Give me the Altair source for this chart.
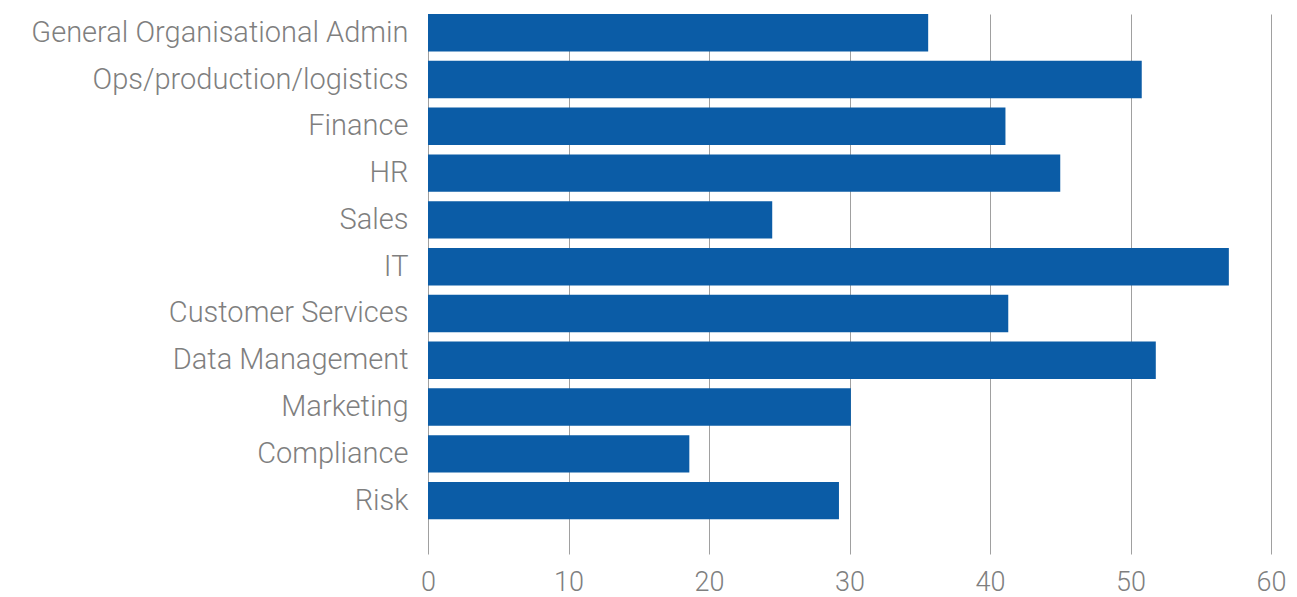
import altair as alt
import pandas as pd

categories = [
    "General Organisational Admin",
    "Ops/production/logistics",
    "Finance",
    "HR",
    "Sales",
    "IT",
    "Customer Services",
    "Data Management",
    "Marketing",
    "Compliance",
    "Risk",
]
values = [35.6, 50.8, 41.1, 45.0, 24.5, 57.0, 41.3, 51.8, 30.1, 18.6, 29.25]
x_ticks = [0, 10, 20, 30, 40, 50, 60]

df = pd.DataFrame({"category": categories, "value": values})

FONT = "Roboto"
LABEL_COLOR = "#7f7f7f"

chart = (
    alt.Chart(df)
    .mark_bar(color="#0B5CA6")
    .encode(
        x=alt.X(
            "value:Q",
            scale=alt.Scale(domain=[0, 60], nice=False, zero=True),
            axis=alt.Axis(
                values=x_ticks,
                title=None,
                grid=True,
                gridColor="#a0a0a0",
                gridWidth=1,
                domain=False,
                ticks=False,
                labelFont=FONT,
                labelFontWeight=300,
                labelFontSize=27,
                labelColor=LABEL_COLOR,
                labelPadding=15,
                labelFlush=False,
            ),
        ),
        y=alt.Y(
            "category:N",
            sort=None,
            scale=alt.Scale(paddingInner=0.2, paddingOuter=0.37, align=0),
            axis=alt.Axis(
                title=None,
                domain=False,
                ticks=False,
                grid=False,
                labelFont=FONT,
                labelFontWeight=300,
                labelFontSize=29,
                labelColor=LABEL_COLOR,
                labelPadding=20,
                labelLimit=500,
            ),
        ),
    )
    .properties(
        width=843,
        height=540,
        autosize=alt.AutoSizeParams(type="none"),
        padding={"left": 428, "top": 14, "right": 26, "bottom": 43},
        background="white",
    )
    .configure_view(stroke=None)
)

chart.save("out.html", embed_options={"renderer": "svg", "actions": False})
